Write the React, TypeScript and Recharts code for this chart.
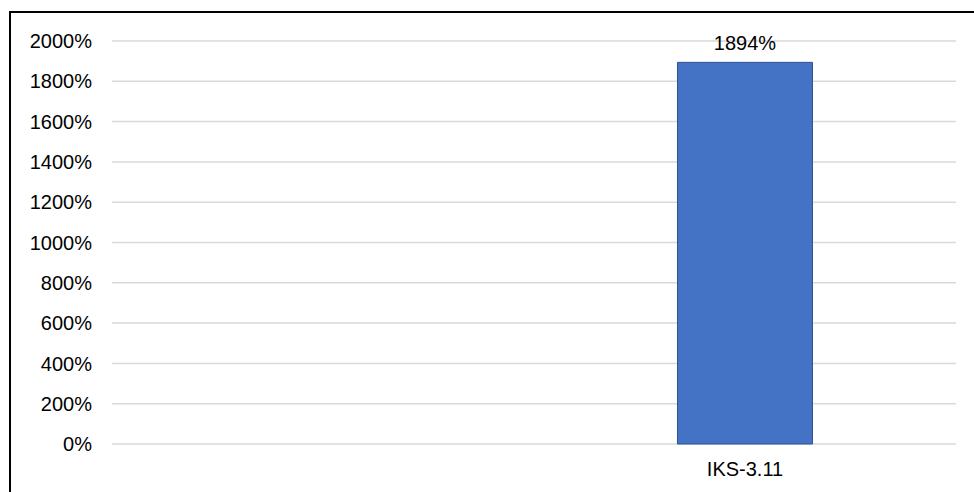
import React from 'react';
import { BarChart, Bar, XAxis, YAxis, CartesianGrid, LabelList } from 'recharts';

const categories = ['', 'IKS-3.11'];
const values: (number | null)[] = [null, 1894];
const yTicks = [0, 200, 400, 600, 800, 1000, 1200, 1400, 1600, 1800, 2000];

const data = categories.map((name, i) => ({ name, value: values[i] }));

const font = 'Liberation Sans, Arial, sans-serif';

export default function App() {
  return (
    <div
      style={{
        position: 'absolute',
        left: 9,
        top: 11,
        width: 965,
        height: 481,
        borderLeft: '2px solid #000',
        borderTop: '2px solid #000',
        overflow: 'hidden',
        background: '#fff',
      }}
    >
      <BarChart
        width={963}
        height={479}
        data={data}
        margin={{ top: 28, right: 18, bottom: 0, left: 0 }}
        barCategoryGap="34%"
      >
        <CartesianGrid vertical={false} stroke="#d9d9d9" strokeWidth={1.5} />
        <XAxis
          dataKey="name"
          axisLine={false}
          tickLine={false}
          height={48}
          tickMargin={12}
          tick={{ fill: '#000', fontSize: 20, fontFamily: font }}
        />
        <YAxis
          width={101}
          domain={[0, 2000]}
          ticks={yTicks}
          axisLine={false}
          tickLine={false}
          tickMargin={14}
          tickFormatter={(v) => `${v}%`}
          tick={{ fill: '#000', fontSize: 20, fontFamily: font }}
        />
        <Bar dataKey="value" fill="#4472c4" stroke="#2f528f" strokeWidth={1} isAnimationActive={false}>
          <LabelList
            dataKey="value"
            position="top"
            offset={12}
            formatter={(v: any) => (v == null ? '' : `${v}%`)}
            style={{ fill: '#000', fontSize: 20, fontFamily: font }}
          />
        </Bar>
      </BarChart>
    </div>
  );
}
